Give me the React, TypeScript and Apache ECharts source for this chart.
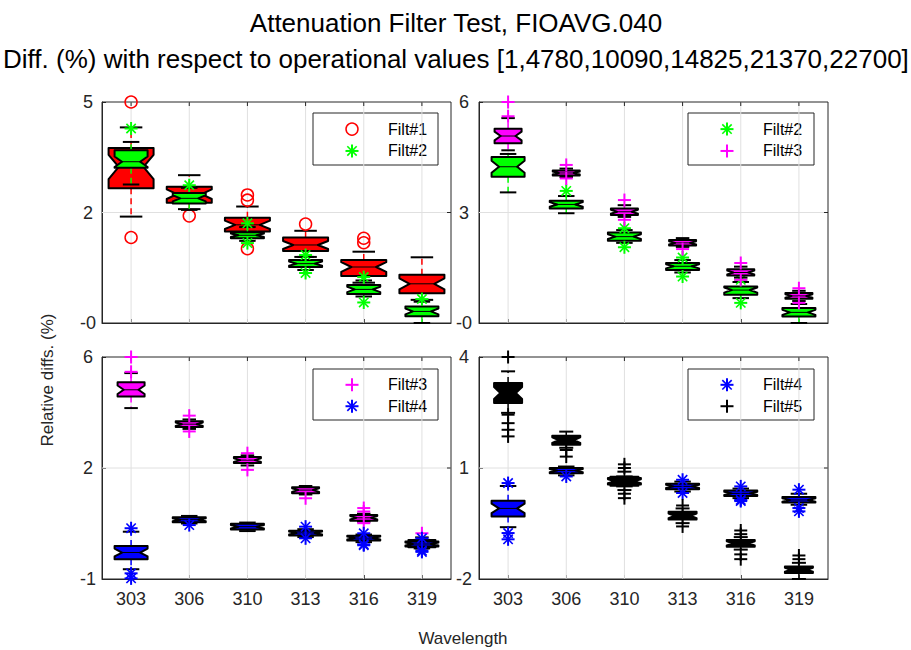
import React, { useEffect, useRef } from 'react';
import * as echarts from 'echarts';

// ---------------- data ----------------
const wavelengths = ['303', '306', '310', '313', '316', '319'];

// each box: [lower whisker, Q1, median, Q3, upper whisker]
// Top-left panel
const tlFilt1Box = [
  [2.83, 3.59, 4.16, 4.67, 5.22],
  [3.03, 3.2, 3.43, 3.63, 3.94],
  [2.26, 2.43, 2.61, 2.8, 3.1],
  [1.75, 1.91, 2.07, 2.27, 2.45],
  [1.06, 1.24, 1.48, 1.67, 1.89],
  [0.6, 0.78, 1.03, 1.27, 1.74],
];
const tlFilt1Out = [[5.9, 2.27], [2.85], [3.41, 3.27, 1.97], [2.63], [2.25, 2.13], []];
const tlFilt2Box = [
  [3.69, 4.14, 4.3, 4.61, 4.83],
  [3.01, 3.18, 3.32, 3.46, 3.6],
  [2.18, 2.25, 2.33, 2.41, 2.55],
  [1.4, 1.48, 1.57, 1.67, 1.75],
  [0.69, 0.76, 0.88, 1.0, 1.12],
  [-0.02, 0.16, 0.29, 0.42, 0.55],
];
const tlFilt2Out = [[5.19], [3.67], [2.65, 2.12], [1.8, 1.32], [1.21, 0.53], [0.62]];

// Top-right panel
const trFilt2Box = [
  [3.55, 3.98, 4.25, 4.52, 4.6],
  [2.98, 3.11, 3.22, 3.32, 3.45],
  [2.17, 2.23, 2.34, 2.45, 2.52],
  [1.36, 1.43, 1.53, 1.62, 1.7],
  [0.66, 0.75, 0.88, 0.98, 1.1],
  [-0.02, 0.16, 0.27, 0.39, 0.5],
];
const trFilt2Out = [[], [3.59], [2.57, 2.05], [1.77, 1.25], [1.16, 0.53], []];
const trFilt3Box = [
  [4.7, 4.89, 5.09, 5.29, 5.58],
  [3.97, 4.01, 4.08, 4.15, 4.2],
  [2.88, 2.93, 3.02, 3.11, 3.2],
  [2.06, 2.1, 2.17, 2.25, 2.3],
  [1.22, 1.28, 1.36, 1.45, 1.52],
  [0.58, 0.64, 0.72, 0.8, 0.86],
];
const trFilt3Out = [[6.02, 5.63], [4.3, 3.93], [3.34, 2.8], [2.0], [1.62, 1.16], [0.93, 0.53]];

// Bottom-left panel
const blFilt3Box = [
  [4.4, 4.77, 4.98, 5.22, 5.51],
  [3.74, 3.8, 3.89, 3.98, 4.04],
  [2.58, 2.66, 2.75, 2.85, 2.9],
  [1.66, 1.7, 1.8, 1.89, 1.93],
  [0.8, 0.83, 0.92, 1.01, 1.05],
  [-0.05, -0.01, 0.1, 0.22, 0.3],
];
const blFilt3Out = [[6.02, 5.55], [4.16, 3.66], [2.97, 2.44], [1.54], [1.23, 1.12, 0.75], [0.43]];
const blFilt4Box = [
  [-0.71, -0.39, -0.18, 0.03, 0.48],
  [0.74, 0.78, 0.86, 0.94, 0.98],
  [0.5, 0.55, 0.64, 0.73, 0.77],
  [0.31, 0.36, 0.44, 0.51, 0.56],
  [0.15, 0.2, 0.28, 0.35, 0.39],
  [-0.05, 0.01, 0.09, 0.17, 0.22],
];
const blFilt4Out = [[0.59, -0.84, -1.0], [0.69], [], [0.64, 0.27], [0.43, 0.08, 0.05], [0.27, -0.12, -0.16]];

// Bottom-right panel
const brFilt4Box = [
  [-0.61, -0.32, -0.1, 0.11, 0.51],
  [0.8, 0.86, 0.93, 1.0, 1.04],
  [0.5, 0.55, 0.64, 0.73, 0.77],
  [0.36, 0.42, 0.5, 0.57, 0.63],
  [0.18, 0.24, 0.31, 0.39, 0.44],
  [0.0, 0.06, 0.13, 0.21, 0.3],
];
const brFilt4Out = [[0.59, -0.77, -0.94], [0.77], [], [0.68, 0.32], [0.5, 0.13, 0.1], [0.41, -0.09, -0.18]];
const brFilt5Box = [
  [2.5, 2.77, 3.04, 3.31, 3.63],
  [1.55, 1.63, 1.76, 1.88, 1.99],
  [0.4, 0.52, 0.64, 0.76, 0.9],
  [-0.5, -0.4, -0.3, -0.19, -0.1],
  [-1.22, -1.14, -1.05, -0.96, -0.88],
  [-2.02, -1.86, -1.77, -1.68, -1.58],
];
const brFilt5Out = [[4.02, 2.45, 2.22, 2.04, 1.86], [1.49, 1.31], [1.1, 1.0, 0.3, 0.18], [-0.02, -0.59], [-0.7, -0.8, -1.35, -1.48], [-1.38, -1.48]];

// axis ranges [min, max] and tick labels (min, middle, max)
const tlRange = [-0.02, 5.9];
const trRange = [-0.02, 6.02];
const blRange = [-1.02, 6.02];
const brRange = [-2.02, 4.02];
const tlTicks = ['-0', '2', '5'];
const trTicks = ['-0', '3', '6'];
const blTicks = ['-1', '2', '6'];
const brTicks = ['-2', '1', '4'];

const titleLine1 = 'Attenuation Filter Test, FIOAVG.040';
const titleLine2 = 'Diff. (%) with respect to operational values [1,4780,10090,14825,21370,22700]';

// ---------------- styles ----------------
const FONT = "'Liberation Sans', Arial, Helvetica, sans-serif";
const AXIS = '#262626';
const GRID = '#e0e0e0';
const NOTCH_FRAC = 0.3;
const NOTCH_INSET = 0.45;

const filterStyle: Record<string, { color: string; marker: string; width: number }> = {
  'Filt#1': { color: '#ff0000', marker: 'o', width: 45 },
  'Filt#2': { color: '#00ff00', marker: '*', width: 33 },
  'Filt#3': { color: '#ff00ff', marker: '+', width: 27 },
  'Filt#4': { color: '#0000ff', marker: '*', width: 33 },
  'Filt#5': { color: '#000000', marker: '+', width: 28 },
};

type PanelDef = {
  grid: { left: number; top: number; width: number; height: number };
  range: number[];
  ticks: string[];
  labelMargin: number;
  showX: boolean;
  filters: { name: string; box: number[][]; out: number[][] }[];
  legend: { x: number; y: number; w: number; h: number };
};

const panels: PanelDef[] = [
  {
    grid: { left: 102, top: 102, width: 349, height: 221 },
    range: tlRange, ticks: tlTicks, labelMargin: 14, showX: false,
    filters: [
      { name: 'Filt#1', box: tlFilt1Box, out: tlFilt1Out },
      { name: 'Filt#2', box: tlFilt2Box, out: tlFilt2Out },
    ],
    legend: { x: 313, y: 113, w: 125, h: 52 },
  },
  {
    grid: { left: 479, top: 102, width: 349, height: 221 },
    range: trRange, ticks: trTicks, labelMargin: 15, showX: false,
    filters: [
      { name: 'Filt#2', box: trFilt2Box, out: trFilt2Out },
      { name: 'Filt#3', box: trFilt3Box, out: trFilt3Out },
    ],
    legend: { x: 688, y: 113, w: 126, h: 52 },
  },
  {
    grid: { left: 102, top: 357, width: 349, height: 222 },
    range: blRange, ticks: blTicks, labelMargin: 14, showX: true,
    filters: [
      { name: 'Filt#3', box: blFilt3Box, out: blFilt3Out },
      { name: 'Filt#4', box: blFilt4Box, out: blFilt4Out },
    ],
    legend: { x: 313, y: 369, w: 125, h: 51 },
  },
  {
    grid: { left: 479, top: 357, width: 349, height: 222 },
    range: brRange, ticks: brTicks, labelMargin: 15, showX: true,
    filters: [
      { name: 'Filt#4', box: brFilt4Box, out: brFilt4Out },
      { name: 'Filt#5', box: brFilt5Box, out: brFilt5Out },
    ],
    legend: { x: 688, y: 369, w: 126, h: 51 },
  },
];

function markerEls(kind: string, cx: number, cy: number, color: string): any[] {
  if (kind === 'o') {
    return [{ type: 'circle', shape: { cx, cy, r: 6 }, style: { fill: 'none', stroke: color, lineWidth: 1.5 } }];
  }
  const s = 6.5;
  const els: any[] = [
    { type: 'line', shape: { x1: cx - s, y1: cy, x2: cx + s, y2: cy }, style: { stroke: color, lineWidth: 2 } },
    { type: 'line', shape: { x1: cx, y1: cy - s, x2: cx, y2: cy + s }, style: { stroke: color, lineWidth: 2 } },
  ];
  if (kind === '*') {
    const d = s * 0.72;
    els.push({ type: 'line', shape: { x1: cx - d, y1: cy - d, x2: cx + d, y2: cy + d }, style: { stroke: color, lineWidth: 1.6 } });
    els.push({ type: 'line', shape: { x1: cx - d, y1: cy + d, x2: cx + d, y2: cy - d }, style: { stroke: color, lineWidth: 1.6 } });
  }
  return els;
}

function boxRenderer(width: number, color: string) {
  return (params: any, api: any) => {
    const i = api.value(0);
    const low = api.value(1), q1 = api.value(2), med = api.value(3), q3 = api.value(4), high = api.value(5);
    const c = (v: number) => api.coord([i, v]);
    const x = c(med)[0];
    const iqr = q3 - q1;
    const yLow = c(low)[1], yQ1 = c(q1)[1], yMed = c(med)[1], yQ3 = c(q3)[1], yHigh = c(high)[1];
    const yNHi = c(Math.min(q3, med + NOTCH_FRAC * iqr))[1];
    const yNLo = c(Math.max(q1, med - NOTCH_FRAC * iqr))[1];
    const hw = width / 2;
    const inner = hw * NOTCH_INSET;
    const cap = width / 4;
    const pts = [
      [x - hw, yQ3], [x - hw, yNHi], [x - hw + inner, yMed], [x - hw, yNLo], [x - hw, yQ1],
      [x + hw, yQ1], [x + hw, yNLo], [x + hw - inner, yMed], [x + hw, yNHi], [x + hw, yQ3],
    ];
    return {
      type: 'group',
      children: [
        { type: 'line', shape: { x1: x, y1: yQ1, x2: x, y2: yLow }, style: { stroke: color, lineWidth: 1.5, lineDash: [6, 4] } },
        { type: 'line', shape: { x1: x, y1: yQ3, x2: x, y2: yHigh }, style: { stroke: color, lineWidth: 1.5, lineDash: [6, 4] } },
        { type: 'line', shape: { x1: x - cap, y1: yLow, x2: x + cap, y2: yLow }, style: { stroke: '#000', lineWidth: 2 } },
        { type: 'line', shape: { x1: x - cap, y1: yHigh, x2: x + cap, y2: yHigh }, style: { stroke: '#000', lineWidth: 2 } },
        { type: 'polygon', shape: { points: pts }, style: { fill: color, stroke: '#000', lineWidth: 2, lineJoin: 'round' } },
        { type: 'line', shape: { x1: x - hw + inner, y1: yMed, x2: x + hw - inner, y2: yMed }, style: { stroke: '#000', lineWidth: 1 } },
      ],
    };
  };
}

function outlierRenderer(kind: string, color: string) {
  return (params: any, api: any) => {
    const p = api.coord([api.value(0), api.value(1)]);
    return { type: 'group', children: markerEls(kind, p[0], p[1], color) };
  };
}

function gridRenderer(mid: number, yMin: number, yMax: number) {
  return (params: any, api: any) => {
    const i = api.value(0);
    const top = api.coord([i, yMax]);
    const bot = api.coord([i, yMin]);
    const cs = params.coordSys;
    const children: any[] = [
      { type: 'line', shape: { x1: top[0], y1: bot[1], x2: top[0], y2: top[1] }, style: { stroke: GRID, lineWidth: 1 } },
      { type: 'line', shape: { x1: top[0], y1: cs.y, x2: top[0], y2: cs.y + 4 }, style: { stroke: AXIS, lineWidth: 1 } },
    ];
    if (i === 0) {
      const ym = api.coord([0, mid])[1];
      children.push({ type: 'line', shape: { x1: cs.x, y1: ym, x2: cs.x + cs.width, y2: ym }, style: { stroke: GRID, lineWidth: 1 } });
      children.push({ type: 'line', shape: { x1: cs.x + cs.width - 4, y1: ym, x2: cs.x + cs.width, y2: ym }, style: { stroke: AXIS, lineWidth: 1 } });
    }
    return { type: 'group', children };
  };
}

function buildOption() {
  const grids: any[] = [];
  const xAxes: any[] = [];
  const yAxes: any[] = [];
  const series: any[] = [];
  const graphics: any[] = [];

  panels.forEach((p, gi) => {
    grids.push({ ...p.grid, show: true, borderColor: AXIS, borderWidth: 1, backgroundColor: '#fff', containLabel: false });
    xAxes.push({
      type: 'category', gridIndex: gi, data: wavelengths, boundaryGap: true,
      axisLine: { show: true, onZero: false, lineStyle: { color: AXIS, width: 1 } },
      axisTick: { show: true, inside: true, alignWithLabel: true, length: 4, lineStyle: { color: AXIS } },
      axisLabel: { show: p.showX, color: AXIS, fontFamily: FONT, fontSize: 18, margin: 11 },
      splitLine: { show: false },
    });
    const mid = (p.range[0] + p.range[1]) / 2;
    const tickVals = [p.range[0], mid, p.range[1]];
    const labels = p.ticks;
    yAxes.push({
      type: 'value', gridIndex: gi, min: p.range[0], max: p.range[1],
      axisLine: { show: true, onZero: false, lineStyle: { color: AXIS, width: 1 } },
      axisTick: { show: true, inside: true, length: 4, lineStyle: { color: AXIS }, customValues: tickVals },
      axisLabel: {
        show: true, color: AXIS, fontFamily: FONT, fontSize: 18, margin: p.labelMargin, align: 'center',
        customValues: tickVals,
        formatter: (v: number) => {
          let best = 0;
          tickVals.forEach((t, k) => { if (Math.abs(t - v) < Math.abs(tickVals[best] - v)) best = k; });
          return labels[best];
        },
      },
      splitLine: { show: false },
    });

    series.push({
      type: 'custom', name: 'grid' + gi, xAxisIndex: gi, yAxisIndex: gi, z: 1, silent: true,
      renderItem: gridRenderer(mid, p.range[0], p.range[1]),
      data: wavelengths.map((_, k) => [k, mid]),
      encode: { x: 0, y: 1 },
    });

    p.filters.forEach((f) => {
      const st = filterStyle[f.name];
      series.push({
        type: 'custom', name: f.name, xAxisIndex: gi, yAxisIndex: gi, z: 3,
        renderItem: boxRenderer(st.width, st.color),
        data: f.box.map((b, k) => [k, ...b]),
        encode: { x: 0, y: [1, 2, 3, 4, 5] },
      });
      const outData: number[][] = [];
      f.out.forEach((arr, k) => arr.forEach((v) => outData.push([k, v])));
      series.push({
        type: 'custom', name: f.name + ' outliers', xAxisIndex: gi, yAxisIndex: gi, z: 3,
        renderItem: outlierRenderer(st.marker, st.color),
        data: outData,
        encode: { x: 0, y: 1 },
      });
    });

    // legend box
    const L = p.legend;
    const children: any[] = [
      { type: 'rect', shape: { x: L.x, y: L.y, width: L.w, height: L.h }, style: { fill: '#fff', stroke: AXIS, lineWidth: 1 } },
    ];
    p.filters.forEach((f, k) => {
      const st = filterStyle[f.name];
      const cy = L.y + L.h * (k === 0 ? 0.31 : 0.73);
      markerEls(st.marker, L.x + 39, cy, st.color).forEach((e) => children.push(e));
      children.push({
        type: 'text',
        style: { text: f.name, x: L.x + 75, y: cy, fill: '#000', fontSize: 16, fontFamily: FONT, align: 'left', verticalAlign: 'middle' },
      });
    });
    graphics.push({ type: 'group', z: 100, children });
  });

  graphics.push({
    type: 'text', z: 100,
    style: { text: titleLine1, x: 456, y: 23, fill: '#000', fontSize: 26, fontFamily: FONT, align: 'center', verticalAlign: 'middle' },
  });
  graphics.push({
    type: 'text', z: 100,
    style: { text: titleLine2, x: 3, y: 59, fill: '#000', fontSize: 26, fontFamily: FONT, align: 'left', verticalAlign: 'middle' },
  });
  graphics.push({
    type: 'text', z: 100, x: 47, y: 380, rotation: Math.PI / 2,
    style: { text: 'Relative diffs. (%)', x: 0, y: 0, fill: AXIS, fontSize: 17, fontFamily: FONT, align: 'center', verticalAlign: 'middle' },
  });
  graphics.push({
    type: 'text', z: 100,
    style: { text: 'Wavelength', x: 463, y: 638, fill: AXIS, fontSize: 17, fontFamily: FONT, align: 'center', verticalAlign: 'middle' },
  });

  return {
    animation: false,
    backgroundColor: '#fff',
    grid: grids,
    xAxis: xAxes,
    yAxis: yAxes,
    series,
    graphic: graphics,
  };
}

export default function App() {
  const ref = useRef<HTMLDivElement>(null);
  useEffect(() => {
    if (!ref.current) return;
    const chart = echarts.init(ref.current, null, { renderer: 'svg' });
    chart.setOption(buildOption() as any);
    return () => chart.dispose();
  }, []);
  return <div ref={ref} style={{ position: 'fixed', left: 0, top: 0, width: 911, height: 650 }} />;
}
